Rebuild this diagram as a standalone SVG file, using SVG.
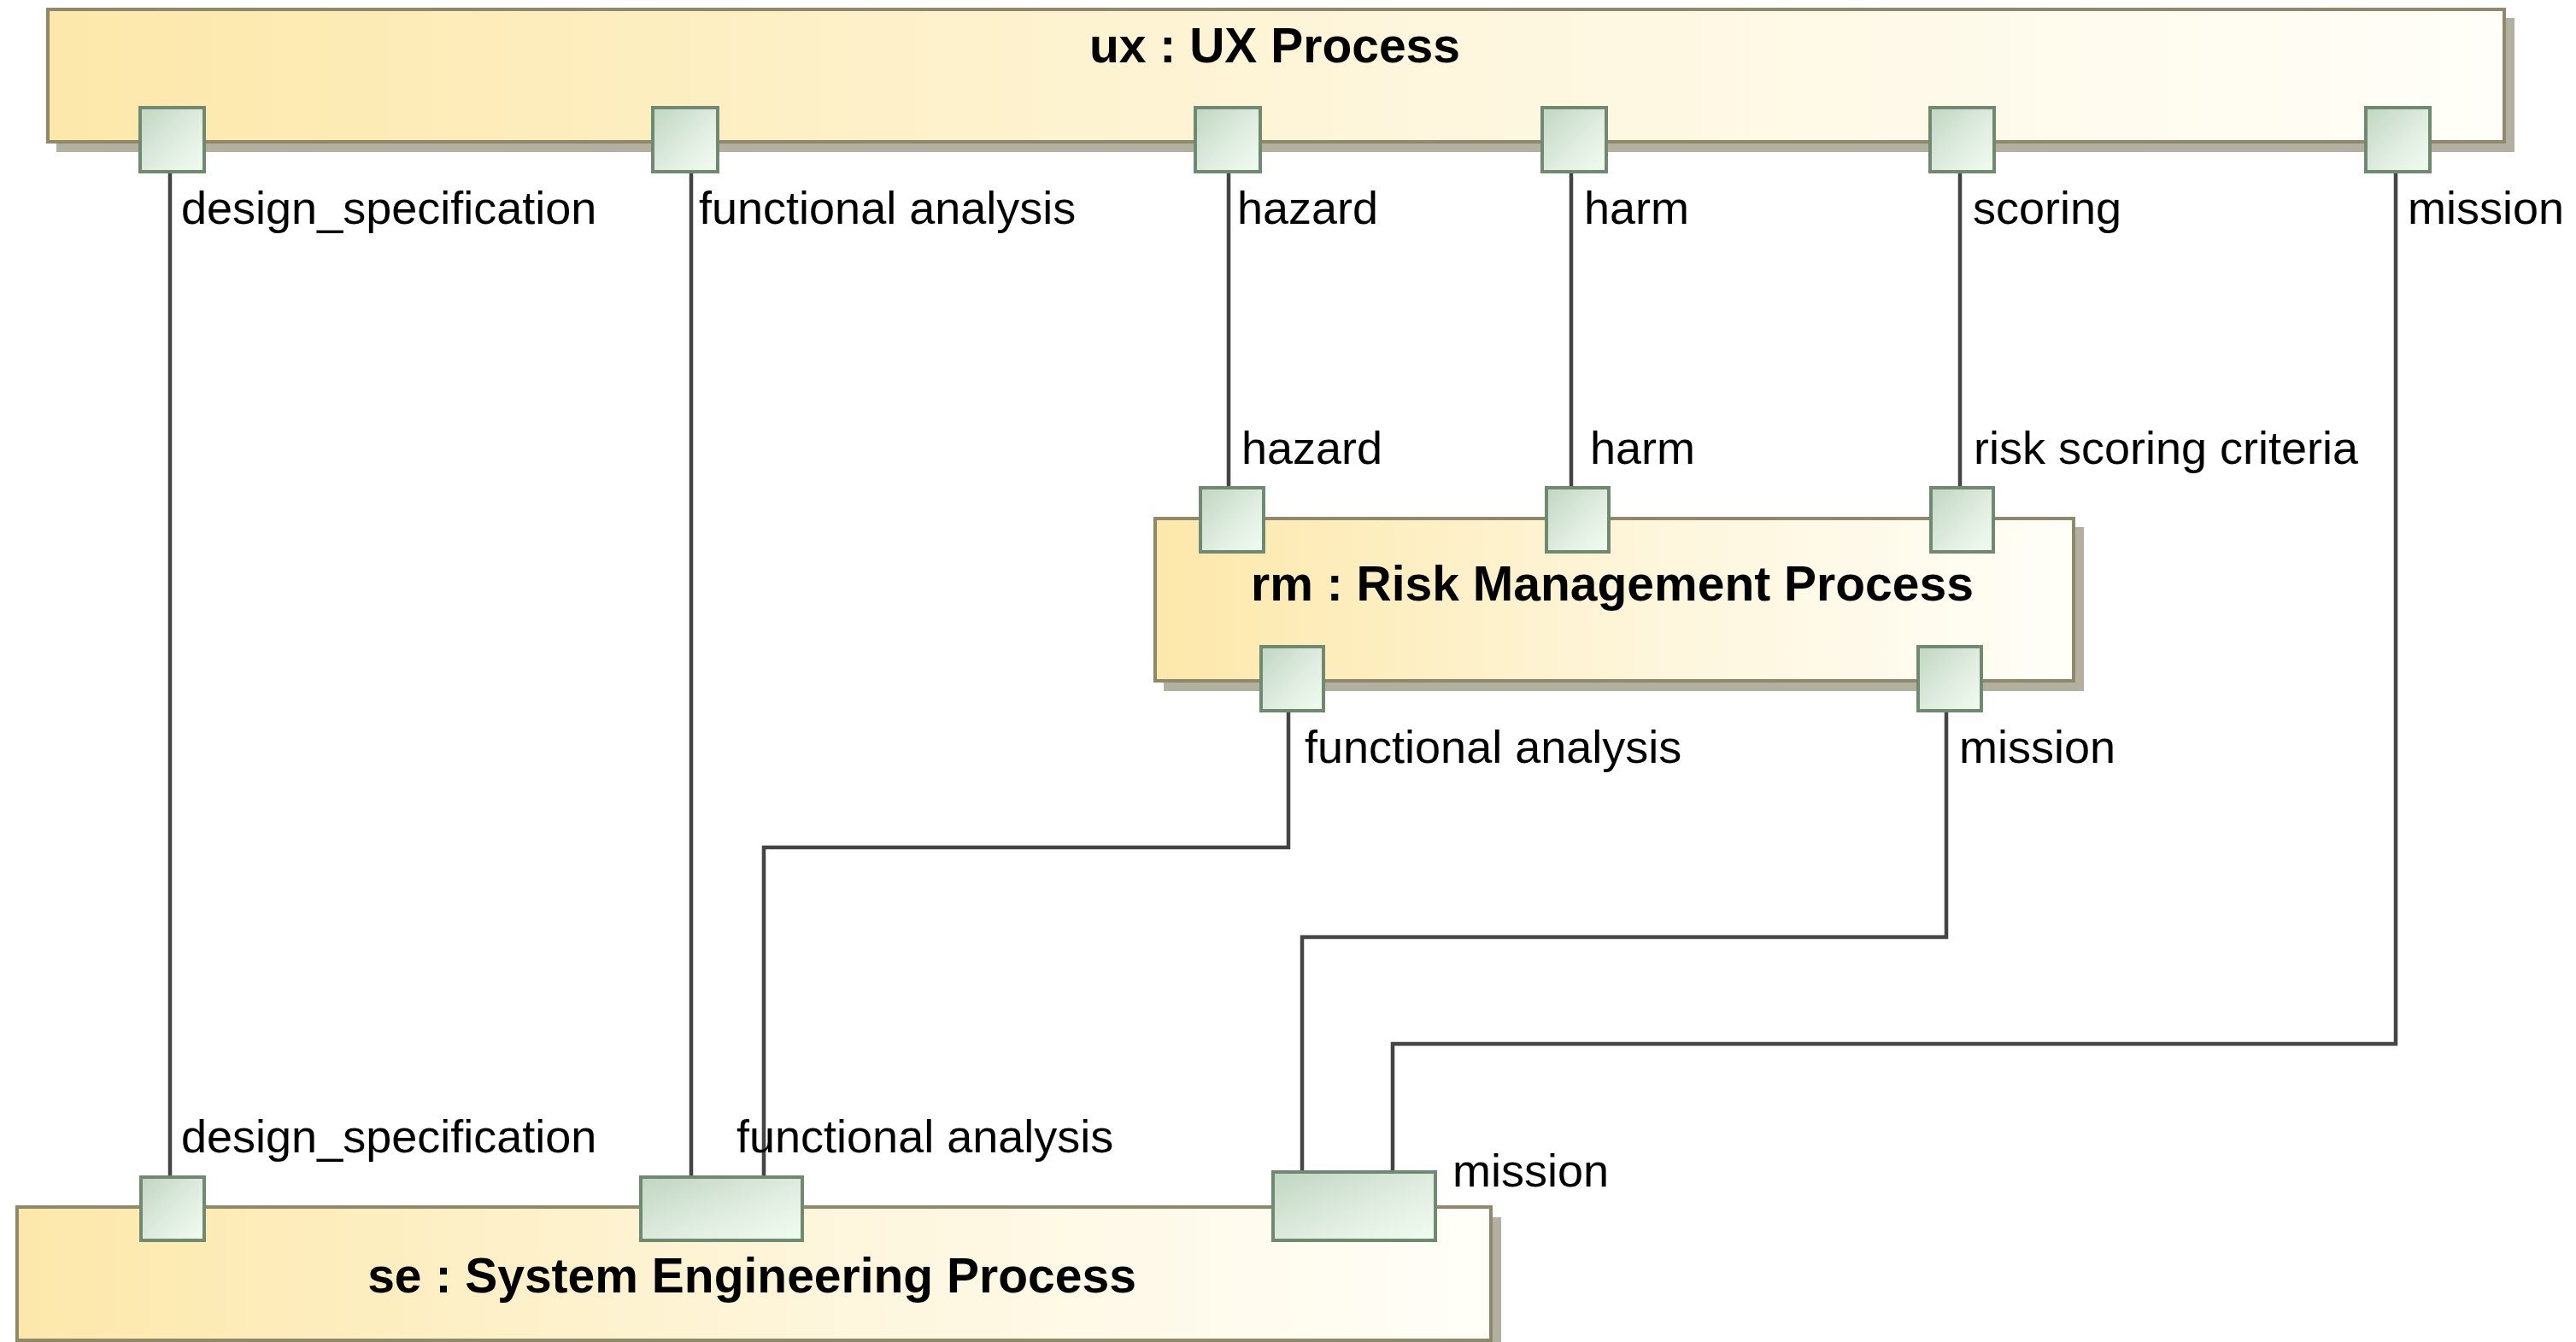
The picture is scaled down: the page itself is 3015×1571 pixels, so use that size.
<svg xmlns="http://www.w3.org/2000/svg" width="3015" height="1571" viewBox="0 0 3015 1571">
  <defs>
    <linearGradient id="partFill" x1="0" y1="0" x2="1" y2="0">
      <stop offset="0" stop-color="#fde8aa"/>
      <stop offset="0.55" stop-color="#fef6dc"/>
      <stop offset="1" stop-color="#fffef8"/>
    </linearGradient>
    <linearGradient id="portFill" x1="0" y1="0" x2="1" y2="1">
      <stop offset="0" stop-color="#c0d6c2"/>
      <stop offset="0.6" stop-color="#e2eee2"/>
      <stop offset="1" stop-color="#effdef"/>
    </linearGradient>
    <style>
      .shadow { fill: #b4b0a0; }
      .part { fill: url(#partFill); stroke: #8f896b; stroke-width: 4; }
      .port { fill: url(#portFill); stroke: #6f8a70; stroke-width: 4; }
      .title { font-family: "Liberation Sans", Arial, sans-serif; font-size: 57px; font-weight: bold; fill: #000; text-anchor: middle; }
      .label { font-family: "Liberation Sans", Arial, sans-serif; font-size: 54px; fill: #000; }
      .conn { fill: none; stroke: #444444; stroke-width: 4.5; }
    </style>
  </defs>

  <rect width="3015" height="1571" fill="#ffffff"/>

  <!-- Part: ux -->
  <g id="ux">
    <rect class="shadow" x="66" y="21" width="2877" height="157"/>
    <rect class="part" x="56" y="11" width="2875" height="155"/>
    <text class="title" x="1492" y="73">ux : UX Process</text>
  </g>

  <!-- Part: rm -->
  <g id="rm">
    <rect class="shadow" x="1362" y="617" width="1077" height="192"/>
    <rect class="part" x="1352" y="607" width="1075" height="190"/>
    <text class="title" x="1887" y="703">rm : Risk Management Process</text>
  </g>

  <!-- Part: se -->
  <g id="se">
    <rect class="shadow" x="30" y="1425" width="1727" height="160"/>
    <rect class="part" x="20" y="1413" width="1725" height="156"/>
    <text class="title" x="880" y="1513">se : System Engineering Process</text>
  </g>

  <!-- Connectors between ports -->
  <g id="connectors">
    <path class="conn" d="M199,203 V1376"/>
    <path class="conn" d="M809,203 V1376"/>
    <path class="conn" d="M1438,203 V569"/>
    <path class="conn" d="M1839,203 V569"/>
    <path class="conn" d="M2294,203 V569"/>
    <path class="conn" d="M2804,203 V1222 H1630 V1370"/>
    <path class="conn" d="M1508,834 V992 H894 V1376"/>
    <path class="conn" d="M2278,834 V1097 H1524 V1370"/>
  </g>

  <!-- Ports of ux -->
  <g id="ux-design_specification"><rect class="port" x="164" y="126" width="75" height="75"/><text class="label" x="212" y="262">design_specification</text></g>
  <g id="ux-functional_analysis"><rect class="port" x="764" y="126" width="76" height="75"/><text class="label" x="818" y="262">functional analysis</text></g>
  <g id="ux-hazard"><rect class="port" x="1399" y="126" width="76" height="75"/><text class="label" x="1448" y="262">hazard</text></g>
  <g id="ux-harm"><rect class="port" x="1805" y="126" width="75" height="75"/><text class="label" x="1854" y="262">harm</text></g>
  <g id="ux-scoring"><rect class="port" x="2259" y="126" width="75" height="75"/><text class="label" x="2309" y="262">scoring</text></g>
  <g id="ux-mission"><rect class="port" x="2769" y="126" width="75" height="75"/><text class="label" x="2818" y="262">mission</text></g>

  <!-- Ports of rm -->
  <g id="rm-hazard"><rect class="port" x="1405" y="571" width="74" height="75"/><text class="label" x="1453" y="543">hazard</text></g>
  <g id="rm-harm"><rect class="port" x="1810" y="571" width="73" height="75"/><text class="label" x="1861" y="543">harm</text></g>
  <g id="rm-risk_scoring_criteria"><rect class="port" x="2260" y="571" width="73" height="75"/><text class="label" x="2310" y="543">risk scoring criteria</text></g>
  <g id="rm-functional_analysis"><rect class="port" x="1476" y="757" width="73" height="75"/><text class="label" x="1527" y="893">functional analysis</text></g>
  <g id="rm-mission"><rect class="port" x="2245" y="757" width="74" height="75"/><text class="label" x="2293" y="893">mission</text></g>

  <!-- Ports of se -->
  <g id="se-design_specification"><rect class="port" x="165" y="1378" width="74" height="74"/><text class="label" x="212" y="1349">design_specification</text></g>
  <g id="se-functional_analysis"><rect class="port" x="750" y="1378" width="189" height="74"/><text class="label" x="862" y="1349">functional analysis</text></g>
  <g id="se-mission"><rect class="port" x="1490" y="1372" width="190" height="80"/><text class="label" x="1700" y="1389">mission</text></g>
</svg>
